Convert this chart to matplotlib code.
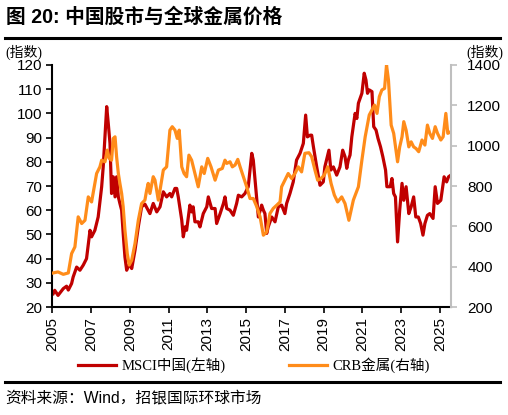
import matplotlib
matplotlib.use('Agg')
import matplotlib.pyplot as plt
from matplotlib.lines import Line2D
import numpy as np

# MSCI中国（左轴），按图读取的近似值
msci_year = [2005.05, 2005.13, 2005.3, 2005.57, 2005.74, 2005.83, 2006.0, 2006.08, 2006.26, 2006.43,
             2006.6, 2006.77, 2006.95, 2007.03, 2007.2, 2007.37, 2007.55, 2007.63, 2007.81, 2007.89,
             2007.98, 2008.06, 2008.15, 2008.24, 2008.32, 2008.41, 2008.49, 2008.58, 2008.66, 2008.75,
             2008.84, 2009.0, 2009.1, 2009.27, 2009.44, 2009.61, 2009.78, 2009.95, 2010.04, 2010.21,
             2010.39, 2010.56, 2010.73, 2010.9, 2011.07, 2011.16, 2011.33, 2011.42, 2011.5, 2011.68,
             2011.76, 2011.85, 2011.93, 2012.1, 2012.19, 2012.27, 2012.36, 2012.53, 2012.62, 2012.79,
             2012.97, 2013.05, 2013.22, 2013.4, 2013.48, 2013.66, 2013.83, 2013.91, 2014.0, 2014.17,
             2014.34, 2014.51, 2014.6, 2014.77, 2014.94, 2015.11, 2015.29, 2015.37, 2015.46, 2015.63,
             2015.8, 2015.89, 2015.97, 2016.06, 2016.14, 2016.32, 2016.49, 2016.66, 2016.83, 2017.0,
             2017.09, 2017.26, 2017.43, 2017.6, 2017.78, 2017.95, 2018.07, 2018.16, 2018.3, 2018.38,
             2018.47, 2018.64, 2018.81, 2018.98, 2019.06, 2019.27, 2019.37, 2019.5, 2019.67, 2019.84,
             2019.98, 2020.1, 2020.19, 2020.27, 2020.36, 2020.45, 2020.62, 2020.71, 2020.79, 2020.97,
             2021.09, 2021.18, 2021.26, 2021.35, 2021.49, 2021.58, 2021.7, 2021.8, 2021.93, 2022.05,
             2022.19, 2022.26, 2022.43, 2022.52, 2022.61, 2022.7, 2022.81, 2022.92, 2023.04, 2023.13,
             2023.25, 2023.39, 2023.51, 2023.64, 2023.75, 2023.88, 2024.0, 2024.12, 2024.22, 2024.35,
             2024.47, 2024.64, 2024.75, 2024.87, 2025.04, 2025.21, 2025.34, 2025.44, 2025.56]
msci_val = [25.5, 26.9, 24.8, 27.6, 28.6, 27.0, 29.7, 32.4, 36.5, 35.2,
            37.3, 40.0, 51.7, 49.0, 51.7, 57.2, 69.7, 77.9, 102.8, 95.9,
            87.6, 66.9, 73.8, 65.5, 73.8, 65.5, 62.8, 60.0, 50.4, 40.7,
            35.2, 38.0, 35.9, 43.5, 53.1, 61.4, 62.5, 60.0, 58.6, 62.8,
            59.3, 61.4, 67.6, 65.5, 66.9, 65.5, 69.0, 69.0, 65.5, 55.9,
            49.0, 53.1, 51.7, 62.1, 59.3, 61.4, 55.2, 55.2, 53.1, 58.6,
            61.4, 65.5, 60.7, 60.7, 54.5, 58.6, 62.8, 65.5, 60.7, 60.0,
            57.9, 62.8, 66.2, 65.5, 66.9, 69.7, 83.5, 80.7, 72.4, 57.2,
            62.1, 60.0, 58.6, 50.4, 53.1, 57.2, 55.2, 61.4, 62.1, 58.6,
            62.8, 66.9, 71.7, 80.7, 83.5, 87.6, 99.3, 90.3, 91.0, 91.0,
            86.2, 77.9, 70.3, 71.7, 77.9, 84.8, 76.6, 77.9, 74.5, 77.9,
            84.8, 82.1, 77.3, 80.7, 82.8, 90.3, 100.0, 97.9, 104.2, 108.3,
            116.6, 113.8, 108.3, 109.7, 109.0, 94.5, 93.1, 89.7, 86.2, 82.1,
            76.6, 69.7, 69.7, 73.1, 66.9, 65.5, 46.9, 60.0, 71.1, 64.1,
            69.7, 58.6, 61.4, 65.5, 57.2, 57.2, 54.5, 49.7, 54.5, 57.9,
            58.6, 56.6, 69.7, 62.8, 64.1, 73.8, 71.7, 73.8, 74.5]

# CRB金属（右轴）
crb_year = [2005.05, 2005.3, 2005.57, 2005.83, 2006.0, 2006.17, 2006.34, 2006.52, 2006.69, 2006.86,
            2007.03, 2007.29, 2007.46, 2007.55, 2007.72, 2007.84, 2007.94, 2008.06, 2008.15, 2008.24,
            2008.32, 2008.41, 2008.49, 2008.58, 2008.66, 2008.75, 2008.87, 2008.97, 2009.1, 2009.27,
            2009.44, 2009.61, 2009.78, 2009.87, 2009.95, 2010.04, 2010.21, 2010.3, 2010.47, 2010.56,
            2010.73, 2010.9, 2011.07, 2011.19, 2011.33, 2011.45, 2011.55, 2011.68, 2011.8, 2011.93,
            2012.05, 2012.19, 2012.36, 2012.53, 2012.71, 2012.84, 2013.02, 2013.19, 2013.4, 2013.57,
            2013.77, 2013.91, 2014.0, 2014.17, 2014.29, 2014.43, 2014.57, 2014.69, 2014.86, 2015.03,
            2015.2, 2015.37, 2015.55, 2015.72, 2015.89, 2016.06, 2016.23, 2016.4, 2016.58, 2016.75,
            2016.83, 2017.0, 2017.17, 2017.35, 2017.52, 2017.69, 2017.86, 2018.03, 2018.24, 2018.38,
            2018.55, 2018.69, 2018.86, 2019.03, 2019.21, 2019.38, 2019.55, 2019.72, 2019.93, 2020.1,
            2020.3, 2020.53, 2020.79, 2020.97, 2021.14, 2021.35, 2021.49, 2021.62, 2021.75, 2021.87,
            2022.0, 2022.14, 2022.24, 2022.34, 2022.48, 2022.61, 2022.81, 2022.92, 2023.04, 2023.13,
            2023.25, 2023.39, 2023.51, 2023.64, 2023.76, 2023.9, 2024.07, 2024.22, 2024.35, 2024.47,
            2024.61, 2024.75, 2024.87, 2025.04, 2025.16, 2025.3, 2025.4, 2025.55]
crb_val = [369, 374, 362, 369, 465, 498, 647, 614, 630, 746,
           721, 862, 895, 928, 920, 978, 937, 928, 1036, 1044,
           945, 862, 813, 763, 697, 581, 465, 408, 432, 515,
           630, 713, 730, 779, 813, 763, 846, 829, 730, 779,
           879, 895, 1077, 1094, 1077, 1036, 1077, 895, 862, 846,
           953, 928, 862, 796, 895, 862, 937, 895, 829, 879,
           887, 928, 912, 920, 895, 904, 932, 895, 846, 796,
           738, 738, 697, 647, 556, 572, 664, 689, 705, 721,
           796, 829, 862, 837, 862, 895, 870, 962, 965, 945,
           879, 829, 837, 854, 895, 813, 755, 721, 746, 713,
           630, 730, 796, 928, 1044, 1152, 1177, 1201, 1160, 1243,
           1276, 1284, 1400, 1326, 1102, 1061, 920, 994, 1044, 1119,
           1077, 994, 1019, 994, 986, 970, 1028, 1003, 1102, 1061,
           1036, 1094, 1061, 1028, 1044, 1160, 1061, 1069]

year_ticks = list(range(2005, 2026, 2))
left_ticks = list(range(20, 121, 10))
right_ticks = list(range(200, 1401, 200))

red = '#C00000'
orange = '#FF8C1A'
cjk_sans = ['Liberation Sans', 'Noto Sans CJK SC']
cjk_serif = ['Liberation Serif', 'Noto Sans CJK SC']

fig = plt.figure(figsize=(5.08, 4.15), dpi=100)
ax = fig.add_axes([0.1024, 0.2602, 0.7848, 0.5832])
ax2 = ax.twinx()

l1, = ax.plot(msci_year, msci_val, color=red, lw=2.3, solid_joinstyle='round')
l2, = ax2.plot(crb_year, crb_val, color=orange, lw=2.3, solid_joinstyle='round')

ax.set_xlim(2004.99, 2025.55)
ax.set_ylim(20, 120)
ax2.set_ylim(200, 1400)

ax.set_xticks(year_ticks)
ax.set_xticklabels([str(y) for y in year_ticks], rotation=90, fontsize=11, family='Liberation Sans')
ax.set_yticks(left_ticks)
ax.set_yticklabels([str(v) for v in left_ticks], fontsize=11, family='Liberation Sans')
ax2.set_yticks(right_ticks)
ax2.set_yticklabels([str(v) for v in right_ticks], fontsize=11, family='Liberation Sans')

ax.tick_params(axis='both', direction='out', length=4, width=1.2, colors='black', pad=3)
ax2.tick_params(axis='y', direction='out', length=4, width=1.2, color='#BFBFBF', labelcolor='black', pad=8)

for a in (ax, ax2):
    a.spines['top'].set_visible(False)
ax.spines['right'].set_visible(False)
ax.spines['left'].set_linewidth(1.5)
ax.spines['bottom'].set_linewidth(1.5)
ax2.spines['left'].set_visible(False)
ax2.spines['bottom'].set_visible(False)
ax2.spines['right'].set_color('#BFBFBF')
ax2.spines['right'].set_linewidth(1.5)

# 标题与上下分隔线
fig.text(0.012, 0.959, '图 20: 中国股市与全球金属价格', fontsize=14.2, fontweight='bold',
         family=cjk_sans, va='center', ha='left')
fig.add_artist(Line2D([0.01, 0.985], [0.9084, 0.9084], transform=fig.transFigure, color='black', lw=2.2))
fig.add_artist(Line2D([0.01, 0.985], [0.080, 0.080], transform=fig.transFigure, color='black', lw=2.2))

fig.text(0.01, 0.873, '(指数)', fontsize=10, family=cjk_serif, va='center', ha='left')
fig.text(0.99, 0.873, '(指数)', fontsize=10, family=cjk_serif, va='center', ha='right')

fig.legend([l1, l2], ['MSCI中国(左轴)', 'CRB金属(右轴)'], loc='center', bbox_to_anchor=(0.5, 0.12),
           ncol=2, frameon=False, prop={'family': cjk_serif, 'size': 10.5},
           handlelength=2.6, handletextpad=0.35, columnspacing=4.4)

fig.text(0.01, 0.041, '资料来源：Wind，招银国际环球市场', fontsize=11.3, family=cjk_sans,
         va='center', ha='left')

fig.savefig('out.png', dpi=100)
